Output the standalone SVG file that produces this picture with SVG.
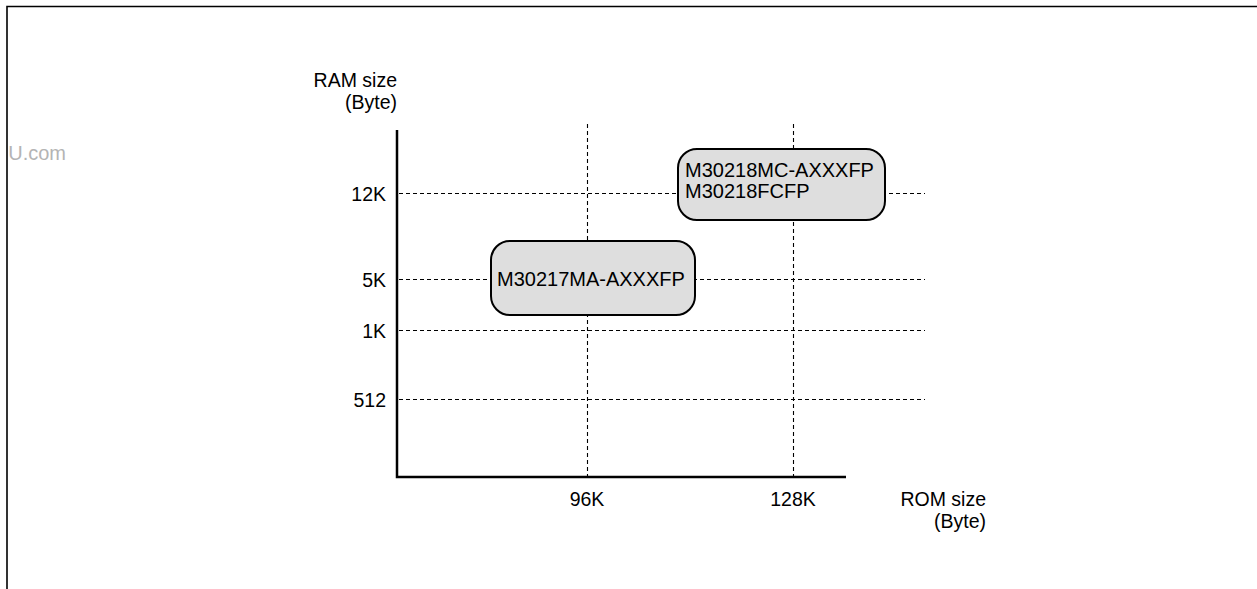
<svg xmlns="http://www.w3.org/2000/svg" width="1257" height="589" viewBox="0 0 1257 589">
<style>
text{font-family:"Liberation Sans",Arial,sans-serif;font-size:19.5px;fill:#000}
.bt{font-size:20px}
.grid{stroke:#000;stroke-width:1.1;stroke-dasharray:4 3;fill:none}
.axis{stroke:#000;stroke-width:2.5;fill:none}
.box{fill:#dedede;stroke:#000;stroke-width:2}
</style>
<rect width="1257" height="589" fill="#fff"/>
<path d="M7 589 V6.5 H1257" fill="none" stroke="#000" stroke-width="1.6"/>
<text x="66" y="160" text-anchor="end" style="fill:#b4b4b4;font-size:20px">U.com</text>
<g id="connectors">
<line class="grid" x1="399" y1="193.5" x2="925" y2="193.5"/>
<line class="grid" x1="399" y1="279.5" x2="925" y2="279.5"/>
<line class="grid" x1="399" y1="330.5" x2="925" y2="330.5"/>
<line class="grid" x1="399" y1="399.5" x2="925" y2="399.5"/>
<line class="grid" x1="587.5" y1="124" x2="587.5" y2="477"/>
<line class="grid" x1="793.5" y1="124" x2="793.5" y2="477"/>
<path class="axis" d="M397 130 V477 H846"/>
</g>
<g id="labels">
<text x="397" y="87" text-anchor="end">RAM size</text>
<text x="397" y="109" text-anchor="end">(Byte)</text>
<text x="386" y="201" text-anchor="end">12K</text>
<text x="386" y="287" text-anchor="end">5K</text>
<text x="386" y="338" text-anchor="end">1K</text>
<text x="386" y="407" text-anchor="end">512</text>
<text x="587" y="506" text-anchor="middle">96K</text>
<text x="793" y="506" text-anchor="middle">128K</text>
<text x="986" y="506" text-anchor="end">ROM size</text>
<text x="986" y="528" text-anchor="end">(Byte)</text>
</g>
<g id="node-m30218">
<rect class="box" x="678" y="149" width="207" height="71" rx="19"/>
<text class="bt" x="685" y="177">M30218MC-AXXXFP</text>
<text class="bt" x="685" y="198">M30218FCFP</text>
</g>
<g id="node-m30217">
<rect class="box" x="491" y="241" width="204" height="74" rx="19"/>
<text class="bt" x="497" y="286">M30217MA-AXXXFP</text>
</g>
</svg>
